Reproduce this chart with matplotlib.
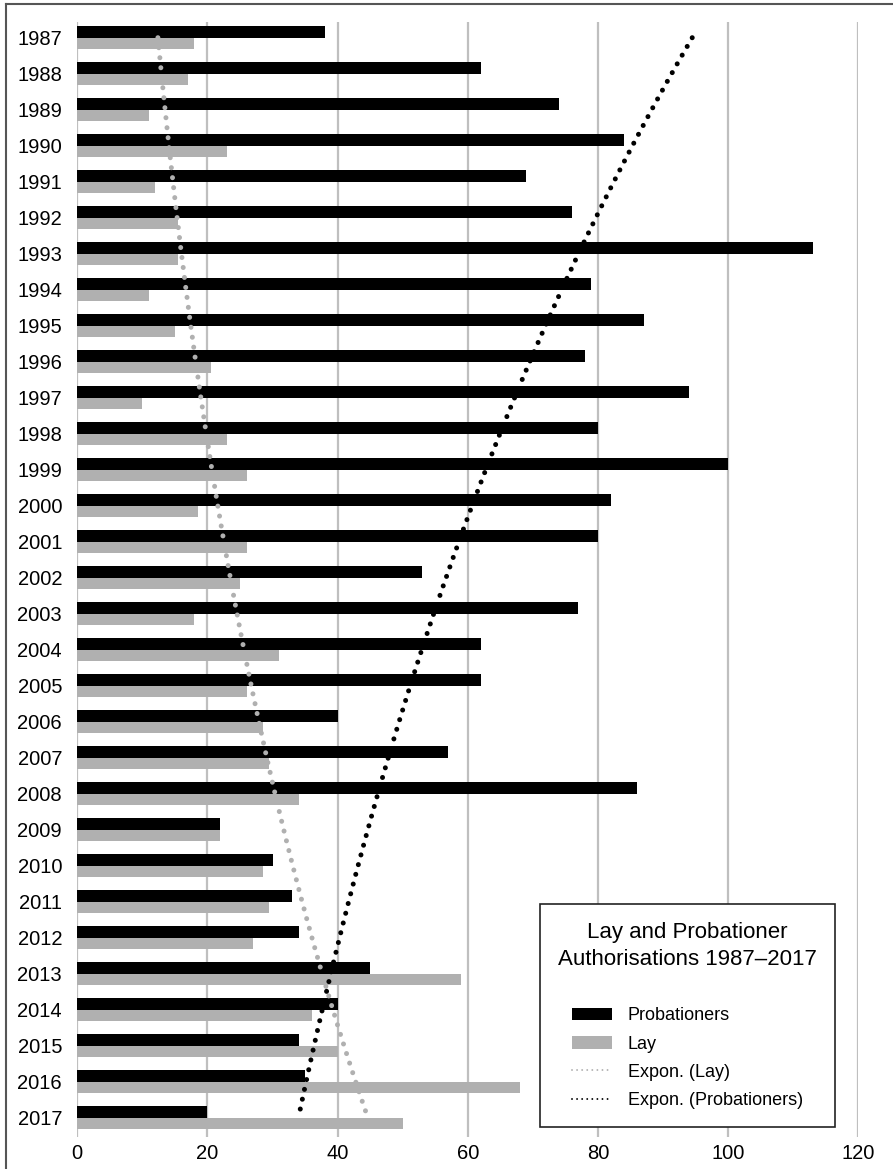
import numpy as np
import matplotlib
matplotlib.use("Agg")
import matplotlib.pyplot as plt
from matplotlib.lines import Line2D
from matplotlib.patches import Patch

plt.rcParams["font.family"] = ["Liberation Sans", "DejaVu Sans"]

years = list(range(1987, 2018))
probationers = [38, 62, 74, 84, 69, 76, 113, 79, 87, 78, 94, 80, 100, 82, 80,
                53, 77, 62, 62, 40, 57, 86, 22, 30, 33, 34, 45, 40, 34, 35, 20]
lay = [18, 17, 11, 23, 12, 15.5, 15.5, 11, 15, 20.5, 10, 23, 26, 18.5, 26,
       25, 18, 31, 26, 28.5, 29.5, 34, 22, 28.5, 29.5, 27, 59, 36, 40, 68, 50]
x_ticks = [0, 20, 40, 60, 80, 100, 120]

black = "#000000"
grey = "#b0b0b0"
grid_grey = "#bfbfbf"

fig = plt.figure(figsize=(8.93, 11.69), dpi=100)
ax = fig.add_axes([77.3 / 893, 1 - 1137 / 1169, 781 / 893, 1115 / 1169])

pos = np.arange(len(years))
h = 0.32
ax.barh(pos - h / 2, probationers, height=h, color=black, zorder=2)
ax.barh(pos + h / 2, lay, height=h, color=grey, zorder=2)


# exponential trendlines (Excel style: fit ln(y) against category index)
def expon_fit(vals):
    b, a = np.polyfit(pos, np.log(vals), 1)
    t = np.linspace(pos[0], pos[-1], 400)
    return t, np.exp(a + b * t)


dots = (0, (0.01, 2.0))
t, lay_trend = expon_fit(lay)
ax.plot(lay_trend, t, color=grey, lw=3.6, linestyle=dots,
        dash_capstyle="round", zorder=3)
t, prob_trend = expon_fit(probationers)
ax.plot(prob_trend, t, color=black, lw=3.6, linestyle=dots,
        dash_capstyle="round", zorder=4)

ax.set_xlim(0, 120)
ax.set_ylim(30.53, -0.436)
ax.set_xticks(x_ticks)
ax.set_yticks(pos)
ax.set_yticklabels([str(y) for y in years])
ax.tick_params(axis="both", length=0, labelsize=14.5)
ax.tick_params(axis="y", pad=11)
ax.tick_params(axis="x", pad=5)
ax.xaxis.grid(True, color=grid_grey, lw=1.6)
ax.set_axisbelow(True)
for s in ax.spines.values():
    s.set_visible(False)

handles = [
    Patch(facecolor=black, edgecolor="none"),
    Patch(facecolor=grey, edgecolor="none"),
    Line2D([], [], color=grey, lw=1.4, linestyle=(0, (0.01, 2.6)),
           dash_capstyle="round"),
    Line2D([], [], color=black, lw=1.4, linestyle=(0, (0.01, 2.6)),
           dash_capstyle="round"),
]
labels = ["Probationers", "Lay", "Expon. (Lay)", "Expon. (Probationers)"]
leg = ax.legend(handles, labels, loc="lower right",
                bbox_to_anchor=((835 - 77.3) / 781, (1137 - 1127) / 1115),
                borderaxespad=0,
                title="Lay and Probationer\nAuthorisations 1987\u20132017\n ",
                title_fontsize=16, fontsize=13, frameon=True, fancybox=False,
                edgecolor="#222222", framealpha=1, borderpad=1.0,
                handlelength=2.2, handleheight=0.7, handletextpad=0.9,
                labelspacing=0.62)
leg.get_frame().set_linewidth(1.2)
leg.get_title().set_linespacing(1.35)
leg.get_title().set_multialignment("center")
leg.set_zorder(5)

# outer frame (top and left edges visible)
fig.add_artist(Line2D([6 / 893, 6 / 893], [0, 1 - 4 / 1169],
                      color="#555555", lw=1.5))
fig.add_artist(Line2D([6 / 893, 1], [1 - 4 / 1169, 1 - 4 / 1169],
                      color="#555555", lw=1.5))

fig.savefig("out.png", dpi=100)
